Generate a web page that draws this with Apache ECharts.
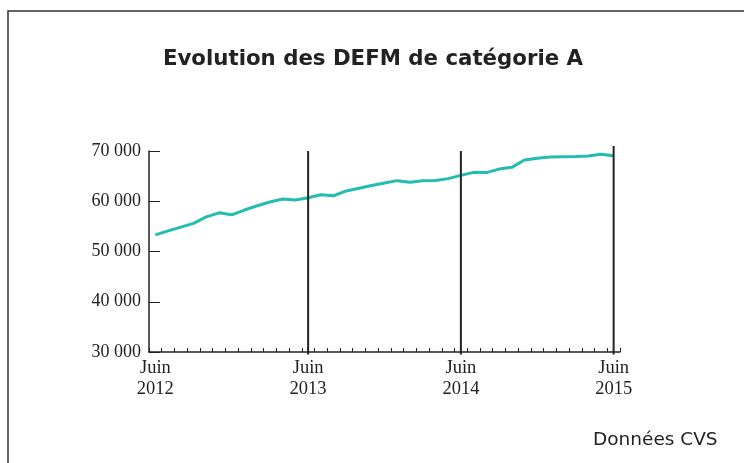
<!DOCTYPE html>
<html>
<head>
<meta charset="utf-8">
<script src="https://cdn.jsdelivr.net/npm/echarts@6/dist/echarts.min.js"></script>
<style>
  html, body { margin: 0; padding: 0; background: #fff; }
  #main { width: 744px; height: 463px; }
</style>
</head>
<body>
<div id="main"></div>
<script>
// mois de juin 2012 à juin 2015
var mois = [];
for (var i = 0; i <= 36; i++) mois.push(String(i));
var etiquettes = { 0: 'Juin\n2012', 12: 'Juin\n2013', 24: 'Juin\n2014', 36: 'Juin\n2015' };
// DEFM catégorie A (données CVS)
var defm = [
  53300, 54100, 54850, 55600, 56900, 57700, 57300, 58250, 59100, 59850, 60450, 60250,
  60700, 61300, 61100, 62050, 62600, 63150, 63650, 64100, 63800, 64100, 64150, 64500,
  65150, 65750, 65700, 66400, 66750, 68200, 68550, 68800, 68850, 68900, 69000, 69350,
  69050
];
// traits verticaux : [mois, haut, bas]
var reperes = [[12, 70000, 29500], [24, 70000, 29500], [36, 71000, 29500]];
var ticksY = [30000, 40000, 50000, 60000, 70000];

var chart = echarts.init(document.getElementById('main'));

function fmtMillier(v) {
  return String(v).replace(/\B(?=(\d{3})+(?!\d))/g, ' ');
}

var seriesReperes = reperes.map(function (r) {
  return {
    type: 'line',
    data: [[r[0], r[1]], [r[0], r[2]]],
    symbol: 'none',
    clip: false,
    silent: true,
    z: 3,
    lineStyle: { color: '#222', width: 2 }
  };
});

var option = {
  backgroundColor: '#fff',
  animation: false,
  title: {
    text: 'Evolution des DEFM de catégorie A',
    left: 368, top: 44, textAlign: 'center',
    textStyle: { fontFamily: 'DejaVu Sans', fontWeight: 'bold', fontSize: 21.3, color: '#222' }
  },
  graphic: [
    { type: 'rect', shape: { x: 8, y: 11, width: 800, height: 500 },
      style: { fill: 'none', stroke: '#333', lineWidth: 1.5 }, silent: true },
    { type: 'text', left: 593, top: 431,
      style: { text: 'Données CVS', font: '18.5px "DejaVu Sans"', fill: '#222' } }
  ],
  grid: { left: 149, right: 124, top: 151, bottom: 111 },
  xAxis: {
    type: 'category',
    data: mois,
    boundaryGap: true,
    axisLine: { lineStyle: { color: '#222', width: 1.5 } },
    axisTick: { show: true, inside: true, length: 4, interval: 0, lineStyle: { color: '#222' } },
    axisLabel: {
      interval: 0, margin: 6, lineHeight: 21,
      fontFamily: 'Liberation Serif', fontSize: 18.5, color: '#222',
      formatter: function (v) { return etiquettes[v] || ''; }
    },
    splitLine: { show: false }
  },
  yAxis: {
    type: 'value',
    min: ticksY[0], max: ticksY[ticksY.length - 1], interval: 10000,
    axisLine: { show: true, lineStyle: { color: '#222', width: 1.5 } },
    axisTick: { show: true, inside: true, length: 11, lineStyle: { color: '#222' } },
    axisLabel: {
      margin: 8, fontFamily: 'Liberation Serif', fontSize: 18, color: '#222',
      formatter: fmtMillier
    },
    splitLine: { show: false }
  },
  series: [{
    type: 'line',
    data: defm,
    symbol: 'none',
    z: 2,
    lineStyle: { color: '#22bcb0', width: 3 }
  }].concat(seriesReperes)
};
chart.setOption(option);
</script>
</body>
</html>
